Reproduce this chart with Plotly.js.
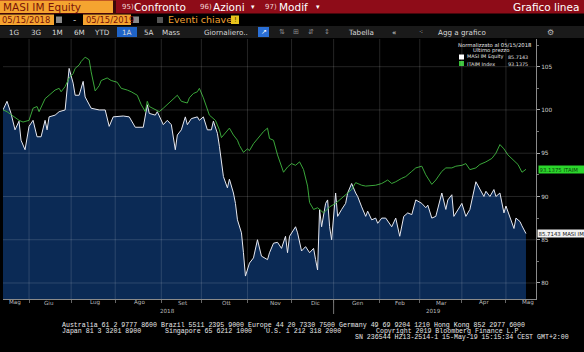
<!DOCTYPE html>
<html><head><meta charset="utf-8">
<script src="https://cdn.plot.ly/plotly-3.0.1.min.js"></script>
<style>html,body{margin:0;padding:0;background:#000;overflow:hidden}#chart{width:584px;height:352px}</style>
</head><body><div id="chart"></div>
<script>
// ---------------- DATA ----------------
const masiName = 'MASI IM Equity';
const itaimName = 'ITAIM Index';
const masiLast = 85.7143;
const itaimLast = 93.1375;

const masiDates = ['2018-05-15','2018-05-17','2018-05-21','2018-05-23','2018-05-25','2018-05-28','2018-05-30','2018-06-01','2018-06-05','2018-06-07','2018-06-11','2018-06-13','2018-06-14','2018-06-15','2018-06-20','2018-06-22','2018-06-27','2018-06-28','2018-06-29','2018-07-03','2018-07-04','2018-07-06','2018-07-10','2018-07-11','2018-07-16','2018-07-20','2018-07-25','2018-07-27','2018-07-31','2018-08-07','2018-08-10','2018-08-15','2018-08-21','2018-08-23','2018-08-24','2018-08-29','2018-08-30','2018-09-04','2018-09-06','2018-09-10','2018-09-12','2018-09-13','2018-09-17','2018-09-19','2018-09-20','2018-09-24','2018-09-27','2018-09-28','2018-10-02','2018-10-04','2018-10-08','2018-10-09','2018-10-11','2018-10-12','2018-10-15','2018-10-16','2018-10-18','2018-10-19','2018-10-23','2018-10-24','2018-10-25','2018-10-29','2018-10-30','2018-10-31','2018-11-02','2018-11-06','2018-11-08','2018-11-12','2018-11-15','2018-11-16','2018-11-20','2018-11-22','2018-11-26','2018-11-28','2018-11-29','2018-11-30','2018-12-05','2018-12-06','2018-12-10','2018-12-12','2018-12-14','2018-12-18','2018-12-19','2018-12-20','2018-12-21','2018-12-24','2018-12-26','2018-12-27','2018-12-28','2018-12-31','2019-01-02','2019-01-03','2019-01-07','2019-01-09','2019-01-10','2019-01-14','2019-01-16','2019-01-17','2019-01-21','2019-01-23','2019-01-24','2019-01-28','2019-01-30','2019-01-31','2019-02-04','2019-02-06','2019-02-11','2019-02-13','2019-02-15','2019-02-19','2019-02-21','2019-02-25','2019-02-27','2019-03-04','2019-03-06','2019-03-07','2019-03-11','2019-03-13','2019-03-18','2019-03-20','2019-03-21','2019-03-25','2019-03-26','2019-03-28','2019-04-01','2019-04-03','2019-04-05','2019-04-10','2019-04-12','2019-04-16','2019-04-17','2019-04-19','2019-04-23','2019-04-24','2019-04-26','2019-04-30','2019-05-01','2019-05-03','2019-05-07','2019-05-08','2019-05-10','2019-05-13','2019-05-15'];
const masiValues = [100,101,99.6,97.7,98.7,96.5,95.4,98.1,98.8,96.9,96.9,98.8,97.7,99.2,99.4,99.8,100,102.7,104.8,103.1,101.7,101.7,103.3,101.5,100.2,100,100,98.1,99.2,99.3,99.2,98,98,100.6,99.6,99.4,99.8,98.3,98.8,98.3,95.4,97.1,97.7,99.2,98.3,99.0,99.2,98.8,99.2,97.7,97.7,98.7,97.3,95.8,94.2,92.3,91,92,90.4,89.2,87.3,85.8,83.5,80.8,82.3,82.9,85,83.1,82.7,83.5,84.6,84.7,84,85.4,83.5,85.4,86.5,85.8,83.7,84.2,83.5,84,82.7,81.5,88.5,86.5,89.2,89.6,86.5,85,90.4,87.7,88.5,89.2,90.4,91.5,90.4,90,88.8,87.7,88.3,87.3,87.5,86.9,87.5,87.5,86.5,87.5,85.4,87.7,88.1,87.9,89.6,89.2,88.7,89,87.5,87.7,90.4,88.5,89.6,90.2,87.7,88.5,89.2,87.7,88.5,91.7,90.8,90,90.6,90,90.8,90,90.4,88.1,88.9,87.7,86.3,87.5,87.1,86.6,85.7143];

const itaimDates = ['2018-05-15','2018-05-17','2018-05-22','2018-05-25','2018-05-29','2018-06-01','2018-06-05','2018-06-07','2018-06-08','2018-06-13','2018-06-15','2018-06-20','2018-06-22','2018-06-25','2018-06-27','2018-06-29','2018-07-03','2018-07-04','2018-07-06','2018-07-09','2018-07-11','2018-07-13','2018-07-16','2018-07-18','2018-07-20','2018-07-23','2018-07-26','2018-07-30','2018-08-02','2018-08-06','2018-08-09','2018-08-13','2018-08-16','2018-08-20','2018-08-22','2018-08-23','2018-08-24','2018-08-29','2018-08-31','2018-09-04','2018-09-06','2018-09-11','2018-09-13','2018-09-17','2018-09-20','2018-09-21','2018-09-25','2018-09-27','2018-09-28','2018-10-02','2018-10-04','2018-10-05','2018-10-10','2018-10-12','2018-10-15','2018-10-17','2018-10-19','2018-10-23','2018-10-25','2018-10-26','2018-10-30','2018-11-01','2018-11-02','2018-11-06','2018-11-08','2018-11-13','2018-11-15','2018-11-16','2018-11-20','2018-11-22','2018-11-27','2018-11-29','2018-12-03','2018-12-05','2018-12-07','2018-12-11','2018-12-13','2018-12-14','2018-12-18','2018-12-20','2018-12-25','2018-12-28','2019-01-02','2019-01-04','2019-01-09','2019-01-14','2019-01-16','2019-01-21','2019-01-23','2019-01-28','2019-01-30','2019-02-04','2019-02-07','2019-02-11','2019-02-13','2019-02-18','2019-02-20','2019-02-25','2019-02-27','2019-03-04','2019-03-06','2019-03-11','2019-03-13','2019-03-18','2019-03-20','2019-03-25','2019-03-27','2019-04-01','2019-04-03','2019-04-05','2019-04-10','2019-04-12','2019-04-17','2019-04-22','2019-04-24','2019-04-26','2019-04-30','2019-05-02','2019-05-07','2019-05-09','2019-05-13','2019-05-15'];
const itaimValues = [100,99.8,99.3,98.8,98.6,98.8,100.2,100.4,99.8,101.3,101.7,102.3,102.5,102.1,102.7,103.7,104.2,104.8,105.2,105.6,106.1,105.8,104.4,102.2,102.8,103.4,103.7,103.4,103.2,102.5,102.3,102.1,101.7,100.6,99.8,101,100.4,100,99.8,100.2,100.6,101.3,101.7,101,100.8,101.4,101.9,102.1,102.5,101.4,100.2,99.4,98.8,97.7,96.8,97.3,97.9,97.1,96.5,95.9,95.1,95.5,95.3,96.1,96.7,97.5,97.9,96.7,96.5,94.8,92.8,93.4,93.8,93.6,94.0,93.1,91.2,89.3,88.5,88.7,88.1,88.8,89.2,89.6,90.2,90.8,91.6,91.3,91.2,91.3,91.3,91.5,91.9,91.5,91.7,92.1,92.3,92.9,93.3,93.5,92.5,91.4,91.9,92.9,93.3,93.3,93.5,93.6,93.8,93.1,93.3,93.7,94.0,94.4,95.0,96.0,95.5,94.8,94.2,93.7,92.8,93.1375];

const yTickValues = [80, 85, 90, 95, 100, 105];
const monthStarts = ['2018-06-01','2018-07-02','2018-08-01','2018-09-03','2018-10-01','2018-11-01','2018-12-03','2019-01-01','2019-02-01','2019-03-01','2019-04-01','2019-05-01'];
const monthLabels = ['Mag','Giu','Lug','Ago','Set','Ott','Nov','Dic','Gen','Feb','Mar','Apr','Mag'];
const monthLabelDates = ['2018-05-23','2018-06-15','2018-07-18','2018-08-17','2018-09-18','2018-10-18','2018-11-21','2018-12-19','2019-01-17','2019-02-15','2019-03-18','2019-04-16','2019-05-16'];
const yearLabels = ['2018','2019'];
const yearLabelDates = ['2018-09-06','2019-03-12'];
const yearBoundary = '2019-01-01';

// ---------------- LAYOUT HELPERS ----------------
const W = 584, H = 352, L = 3, R = 536, T = 39, B = 299;
const px = p => (p - L) / (R - L);
const py = p => (B - p) / (B - T);

const shapes = [];
const ann = [];
function rect(x0, y0, x1, y1, color) {
  shapes.push({type:'rect', xref:'paper', yref:'paper', x0:px(x0), x1:px(x1), y0:py(y1), y1:py(y0),
    fillcolor:color, line:{width:0}, layer:'above'});
}
function txt(text, x, y, size, color, anchor, family) {
  ann.push({text:text, xref:'paper', yref:'paper', x:px(x), y:py(y), xanchor:anchor||'left', yanchor:'middle',
    showarrow:false, borderpad:0, font:{size:size, color:color, family:family||'DejaVu Sans, sans-serif'}});
}

// header row 1
rect(0, 0, 584, 13.5, '#8e0c18');
rect(0, 0.5, 113, 13, '#f5a430');
rect(113, 0.5, 116, 13, '#3a0a0a');
txt('MASI IM Equity', 2, 7, 10.5, '#7a1408');
txt('95)', 121, 7, 7, '#f2d6d6'); txt('Confronto', 133, 7, 10.5, '#ffffff');
txt('96)', 199, 7, 7, '#f2d6d6'); txt('Azioni', 212, 7, 10.5, '#ffffff'); txt('▾', 250, 7.5, 7, '#ffffff');
txt('97)', 264, 7, 7, '#f2d6d6'); txt('Modif', 278, 7, 10.5, '#ffffff'); txt('▾', 315, 7.5, 7, '#ffffff');
txt('Grafico linea', 580, 7, 10.5, '#ffffff', 'right');
// header row 2
rect(0, 14.5, 54, 25, '#f5a430');
rect(56, 16.5, 62, 23, '#8a8a8a');
txt('-', 74, 19.5, 9, '#cccccc', 'center');
rect(83, 14.5, 131, 25, '#f5a430');
rect(133, 16.5, 139, 23, '#8a8a8a');
rect(157, 17, 163, 23, '#555555');
txt('05/15/2018', 1, 19.8, 8.4, '#7a1408');
txt('05/15/2019', 84.5, 19.8, 8.4, '#7a1408');
txt('Eventi chiave', 167, 19.8, 9.5, '#f0a030');
rect(231, 15.5, 239, 24, '#e8c41c');
txt('!', 235, 19.8, 7, '#4a3a00', 'center');
// header row 3
rect(0, 26, 584, 38, '#1a1a1a');
rect(117, 27, 137, 37, '#1f64c8');
rect(258, 27, 269, 37, '#2a6fd6');
const r3 = [['1G',14],['3G',36],['1M',57],['6M',79],['YTD',102],['1A',127],['5A',149],['Mass',171],['Giornaliero..',226],['Tabella',361],['«',394],['Agg a grafico',462]];
r3.forEach(([t, x]) => txt(t, x, 32, 7.2, '#d8d8d8', 'center'));
txt('↗', 263.5, 32, 7, '#ffffff', 'center');
txt('⇅', 282, 32, 7, '#8a8a8a', 'center');
txt('⊞', 296, 32, 7, '#8a8a8a', 'center');
txt('⇵', 311, 32, 7, '#8a8a8a', 'center');
txt('↕', 327, 32, 7, '#8a8a8a', 'center');
txt('⁖', 421, 32, 7, '#bbbbbb', 'center');
txt('⚙', 550, 32, 8, '#bbbbbb', 'center');

// legend (top-right)
txt('Normalizzato al 05/15/2018', 495, 45, 5.3, '#e6e6e6', 'center');
txt('Ultimo prezzo', 491, 50.5, 5.3, '#e6e6e6', 'center');
rect(459, 54.5, 464, 59.5, '#ffffff');
txt(masiName, 466, 57, 4.9, '#e6e6e6');
txt(masiLast.toFixed(4), 529, 57, 4.9, '#e6e6e6', 'right');
rect(459, 61, 464, 66, '#39c139');
txt(itaimName, 466, 63.5, 4.9, '#e6e6e6');
txt(itaimLast.toFixed(4), 529, 63.5, 4.9, '#e6e6e6', 'right');

// footer
const mono = 'Liberation Mono, DejaVu Sans Mono, monospace';
txt('Australia 61 2 9777 8600 Brazil 5511 2395 9000 Europe 44 20 7330 7500 Germany 49 69 9204 1210 Hong Kong 852 2977 6000', 61, 325.5, 6.6, '#e8e8e8', 'left', mono);
txt('Japan 81 3 3201 8900', 61, 331, 6.6, '#e8e8e8', 'left', mono);
txt('Singapore 65 6212 1000', 164, 331, 6.6, '#e8e8e8', 'left', mono);
txt('U.S. 1 212 318 2000', 265, 331, 6.6, '#e8e8e8', 'left', mono);
txt('Copyright 2019 Bloomberg Finance L.P.', 375, 331, 6.6, '#e8e8e8', 'left', mono);
txt('SN 236544 H213-2514-1 15-May-19 15:15:34 CEST GMT+2:00', 354, 337, 6.6, '#e8e8e8', 'left', mono);

// month & year labels on the date axis
monthLabels.forEach((m, i) => ann.push({text:m, xref:'x', yref:'paper', x:monthLabelDates[i], y:py(302.5),
  xanchor:'center', yanchor:'middle', showarrow:false, borderpad:0, font:{size:5.6, color:'#bdbdbd', family:'DejaVu Sans, sans-serif'}}));
yearLabels.forEach((t, i) => ann.push({text:t, xref:'x', yref:'paper', x:yearLabelDates[i], y:py(311),
  xanchor:'center', yanchor:'middle', showarrow:false, borderpad:0, font:{size:5.6, color:'#bdbdbd', family:'DejaVu Sans, sans-serif'}}));
shapes.push({type:'line', xref:'x', yref:'paper', x0:yearBoundary, x1:yearBoundary, y0:py(300), y1:py(314), line:{color:'#777', width:1}});

// grid lines drawn above the fill
monthStarts.forEach(d => shapes.push({type:'line', xref:'x', yref:'paper', x0:d, x1:d, y0:0, y1:1,
  line:{color:'rgba(255,255,255,0.14)', width:1}, layer:'above'}));
yTickValues.forEach(v => shapes.push({type:'line', xref:'paper', yref:'y', x0:0, x1:1, y0:v, y1:v,
  line:{color:'rgba(255,255,255,0.14)', width:1}, layer:'above'}));

// last-value labels on the right axis
ann.push({text:itaimLast.toFixed(4) + ' ITAIM', xref:'paper', yref:'y', x:px(538), y:itaimLast, xanchor:'left', yanchor:'middle',
  showarrow:false, bgcolor:'#2bd62b', borderpad:0.5, width:45, align:'left', font:{size:5.4, color:'#0b3d0b', family:'DejaVu Sans, sans-serif'}});
ann.push({text:masiLast.toFixed(4) + ' MASI IM', xref:'paper', yref:'y', x:px(537), y:masiLast, xanchor:'left', yanchor:'middle',
  showarrow:false, bgcolor:'#f2f2f2', borderpad:0.5, width:46, align:'left', font:{size:5.4, color:'#111111', family:'DejaVu Sans, sans-serif'}});

const traces = [
  {x: masiDates, y: masiValues, type:'scatter', mode:'lines', name: masiName,
   line:{color:'#e6e8f0', width:1}, fill:'tozeroy', fillcolor:'#0b2a55'},
  {x: itaimDates, y: itaimValues, type:'scatter', mode:'lines', name: itaimName,
   line:{color:'#3aa63a', width:1}}
];

const layout = {
  width: W, height: H,
  paper_bgcolor:'#000000', plot_bgcolor:'#000000',
  margin:{l:L, r:W - R, t:T, b:H - B, pad:0},
  showlegend:false,
  xaxis:{type:'date', range:['2018-05-15','2019-05-22'], rangebreaks:[{bounds:['sat','mon']}],
    tickmode:'array', tickvals: monthStarts, ticktext: monthStarts.map(() => ''),
    ticks:'outside', ticklen:3, tickcolor:'#666', showgrid:false, zeroline:false,
    showline:true, linecolor:'#8a8a8a', linewidth:1, fixedrange:true},
  yaxis:{side:'right', range:[78.15, 108.2], tickmode:'array', tickvals: yTickValues,
    ticks:'outside', ticklen:3, tickcolor:'#aaaaaa', showgrid:false, zeroline:false,
    showline:true, linecolor:'#8a8a8a', linewidth:1,
    tickfont:{size:5.8, color:'#d0d0d0', family:'DejaVu Sans, sans-serif'},
    minor:{dtick:2.5, tick0:0, ticks:'outside', ticklen:2, tickcolor:'#777', showgrid:false}, fixedrange:true},
  shapes: shapes,
  annotations: ann
};

Plotly.newPlot('chart', traces, layout, {displayModeBar:false, staticPlot:true});
</script></body></html>
